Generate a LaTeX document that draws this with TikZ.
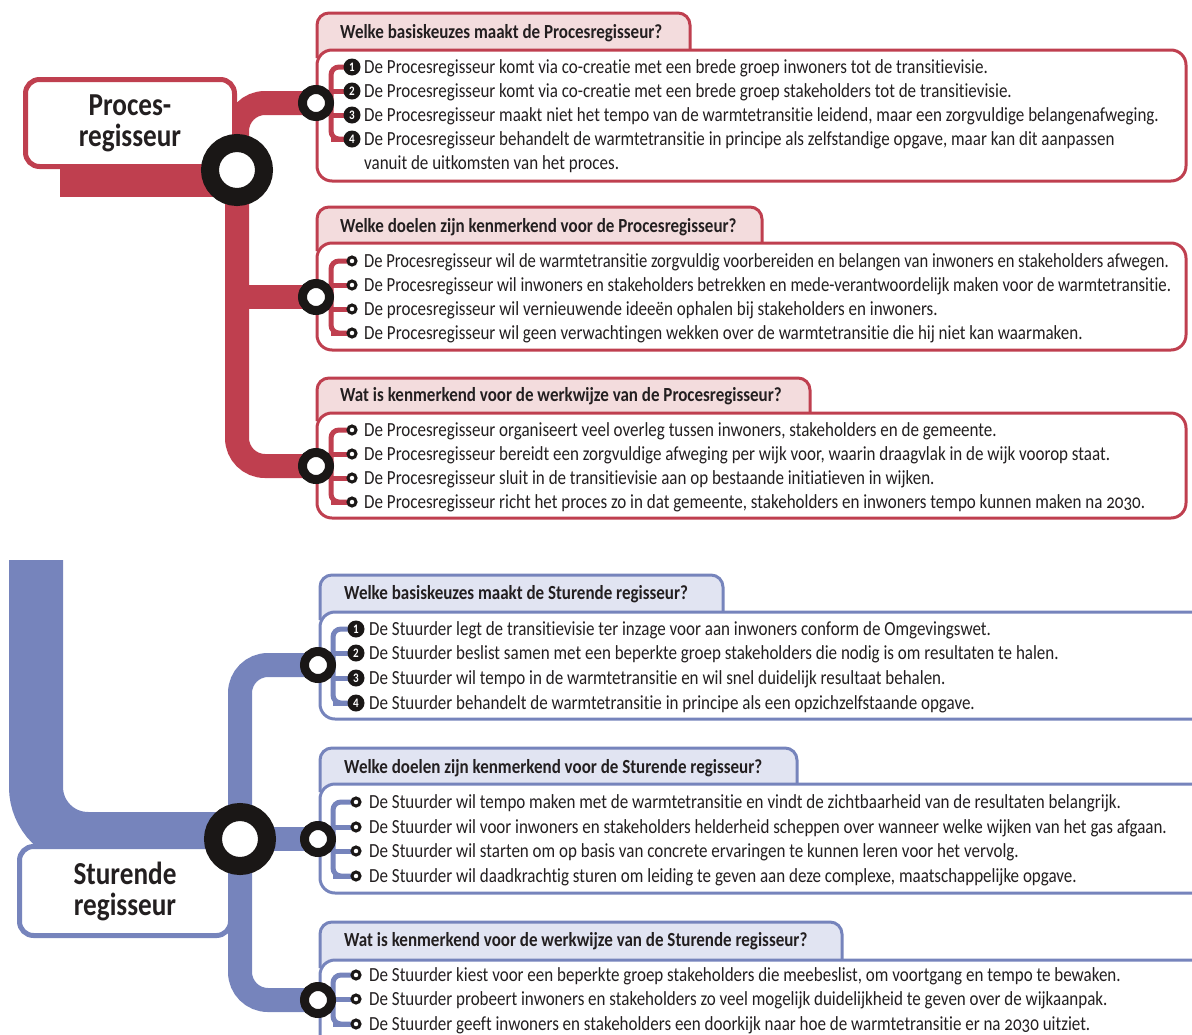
\documentclass[tikz,border=0pt]{standalone}
\usepackage{fontspec}
\setmainfont[FakeStretch=0.85,Numbers=OldStyle,Ligatures=NoCommon]{Carlito}
\usetikzlibrary{calc}
\definecolor{pred}{HTML}{BF3F4F}
\definecolor{ptab}{HTML}{F3DCDD}
\definecolor{sblue}{HTML}{7684BC}
\definecolor{stab}{HTML}{E1E4F2}
\definecolor{ink}{HTML}{231F20}
\definecolor{ringc}{HTML}{1A1716}
\pgfdeclarelayer{L0}\pgfdeclarelayer{L1}\pgfdeclarelayer{L2}
\pgfsetlayers{L0,L1,L2,main}
\tikzset{
 band/.style={line width=54, line cap=butt, rounded corners=52},
 trunk/.style={line width=24, rounded corners=28},
 bigring/.style={circle, draw=ringc, line width=18, fill=white, minimum size=54, inner sep=0},
 smallring/.style={circle, draw=ringc, line width=9, fill=white, minimum size=27, inner sep=0},
 titlebox/.style={draw, line width=5, rounded corners=14, fill=white, align=center, text=ink,
   font=\fontsize{32}{31}\selectfont\bfseries, inner sep=0},
 tabshape/.style={line width=3, rounded corners=12},
 mainbox/.style={line width=3, rounded corners=15, fill=white},
 brk/.style={line width=5, rounded corners=8},
 numbul/.style={circle, fill=ringc, minimum size=17, inner sep=0, text=white,
   font=\fontsize{13}{13}\selectfont\bfseries\addfontfeatures{Numbers=Lining}},
 openbul/.style={circle, draw=ringc, line width=3, fill=white, minimum size=8, inner sep=0},
 itemtxt/.style={anchor=base west, inner sep=0, text=ink, font=\fontsize{20}{24}\selectfont},
 headtxt/.style={anchor=base west, inner sep=0, text=ink, font=\fontsize{20}{24}\selectfont\bfseries},
}
\newcommand\contentbox[8]{%
 \draw[#1, fill=#2, tabshape] (#3,#6+8) -- (#3,#5) -- (#4,#5) -- (#4,#6+8);
 \draw[#1, mainbox] (#3,#6) rectangle (#8,#7);}
\begin{document}
\begin{tikzpicture}[x=1pt,y=-1pt]
\useasboundingbox (0,0) rectangle (1192,1034);
% ---------- junction coordinates
\coordinate (Pc) at (237,170);
\coordinate (Pend) at (60,170);
\coordinate (P1c) at (316,103);
\coordinate (P2c) at (316,297);
\coordinate (P3c) at (316,466);
\coordinate (Sc) at (240,839);
\coordinate (Stop) at (36,560);
\coordinate (S1c) at (318,665);
\coordinate (S2c) at (318,839);
\coordinate (S3c) at (318,1000);
% ---------- title nodes
\node[titlebox, draw=pred, minimum width=209, minimum height=87] (PT) at (130,123) {Proces-\\regisseur};
\node[titlebox, draw=sblue, minimum width=211, minimum height=89] (ST) at (125,891) {Sturende\\regisseur};
% ---------- rings
\node[bigring] (P) at (Pc) {};
\node[smallring] (P1) at (P1c) {};
\node[smallring] (P2) at (P2c) {};
\node[smallring] (P3) at (P3c) {};
\node[bigring] (S) at (Sc) {};
\node[smallring] (S1) at (S1c) {};
\node[smallring] (S2) at (S2c) {};
\node[smallring] (S3) at (S3c) {};
% ---------- headers
\node[headtxt] (hP1) at (340,38) {Welke basiskeuzes maakt de Procesregisseur?};
\node[headtxt] (hP2) at (340,232) {Welke doelen zijn kenmerkend voor de Procesregisseur?};
\node[headtxt] (hP3) at (340,401) {Wat is kenmerkend voor de werkwijze van de Procesregisseur?};
\node[headtxt] (hS1) at (344,599) {Welke basiskeuzes maakt de Sturende regisseur?};
\node[headtxt] (hS2) at (344,773) {Welke doelen zijn kenmerkend voor de Sturende regisseur?};
\node[headtxt] (hS3) at (344,946) {Wat is kenmerkend voor de werkwijze van de Sturende regisseur?};
% ---------- box P1
\foreach \y/\t [count=\i] in {
 67/{De Procesregisseur komt via co-creatie met een brede groep inwoners tot de transitievisie.},
 91/{De Procesregisseur komt via co-creatie met een brede groep stakeholders tot de transitievisie.},
 115/{De Procesregisseur maakt niet het tempo van de warmtetransitie leidend, maar een zorgvuldige belangenafweging.},
 139/{De Procesregisseur behandelt de warmtetransitie in principe als zelfstandige opgave, maar kan dit aanpassen}}
 {\node[numbul] (pa\i) at (352,\y) {\i};
  \node[itemtxt] (tpa\i) at (364,\y+6) {\t};}
\node[itemtxt] (tpa5) at (364,169) {vanuit de uitkomsten van het proces.};
% ---------- box P2
\foreach \y/\t [count=\i] in {
 261/{\scalebox{0.975}[1]{De Procesregisseur wil de warmtetransitie zorgvuldig voorbereiden en belangen van inwoners en stakeholders afwegen.}},
 285/{\scalebox{0.985}[1]{De Procesregisseur wil inwoners en stakeholders betrekken en mede-verantwoordelijk maken voor de warmtetransitie.}},
 309/{De procesregisseur wil vernieuwende ideeën ophalen bij stakeholders en inwoners.},
 333/{De Procesregisseur wil geen verwachtingen wekken over de warmtetransitie die hij niet kan waarmaken.}}
 {\node[openbul] (pb\i) at (352,\y) {};
  \node[itemtxt] (tpb\i) at (364,\y+6) {\t};}
% ---------- box P3
\foreach \y/\t [count=\i] in {
 430/{De Procesregisseur organiseert veel overleg tussen inwoners, stakeholders en de gemeente.},
 454/{De Procesregisseur bereidt een zorgvuldige afweging per wijk voor, waarin draagvlak in de wijk voorop staat.},
 478/{De Procesregisseur sluit in de transitievisie aan op bestaande initiatieven in wijken.},
 502/{De Procesregisseur richt het proces zo in dat gemeente, stakeholders en inwoners tempo kunnen maken na 2030.}}
 {\node[openbul] (pc\i) at (352,\y) {};
  \node[itemtxt] (tpc\i) at (364,\y+6) {\t};}
% ---------- box S1
\foreach \y/\t [count=\i] in {
 629/{De Stuurder legt de transitievisie ter inzage voor aan inwoners conform de Omgevingswet.},
 653/{De Stuurder beslist samen met een beperkte groep stakeholders die nodig is om resultaten te halen.},
 678/{De Stuurder wil tempo in de warmtetransitie en wil snel duidelijk resultaat behalen.},
 703/{De Stuurder behandelt de warmtetransitie in principe als een opzichzelfstaande opgave.}}
 {\node[numbul] (sa\i) at (356,\y) {\i};
  \node[itemtxt] (tsa\i) at (369,\y+6) {\t};}
% ---------- box S2
\foreach \y/\t [count=\i] in {
 802/{De Stuurder wil tempo maken met de warmtetransitie en vindt de zichtbaarheid van de resultaten belangrijk.},
 827/{De Stuurder wil voor inwoners en stakeholders helderheid scheppen over wanneer welke wijken van het gas afgaan.},
 851/{De Stuurder wil starten om op basis van concrete ervaringen te kunnen leren voor het vervolg.},
 876/{De Stuurder wil daadkrachtig sturen om leiding te geven aan deze complexe, maatschappelijke opgave.}}
 {\node[openbul] (sb\i) at (356,\y) {};
  \node[itemtxt] (tsb\i) at (369,\y+6) {\t};}
% ---------- box S3
\foreach \y/\t [count=\i] in {
 975/{De Stuurder kiest voor een beperkte groep stakeholders die meebeslist, om voortgang en tempo te bewaken.},
 999/{De Stuurder probeert inwoners en stakeholders zo veel mogelijk duidelijkheid te geven over de wijkaanpak.},
 1024/{De Stuurder geeft inwoners en stakeholders een doorkijk naar hoe de warmtetransitie er na 2030 uitziet.}}
 {\node[openbul] (sc\i) at (356,\y) {};
  \node[itemtxt] (tsc\i) at (369,\y+6) {\t};}
% ---------- layer 0: bands and trunks
\begin{pgfonlayer}{L0}
 \draw[pred, band] (P.center) -- (Pend);
 \draw[pred, trunk] (P.center) |- (P1.center);
 \draw[pred, trunk] (P.center) |- (P3.center);
 \draw[pred, line width=24] (P.center |- P2.center) -- (P2.center);
 \draw[sblue, band] (Stop) |- (S.center);
 \draw[sblue, trunk] (S.center) |- (S1.center);
 \draw[sblue, trunk] (S.center) |- (S3.center);
 \draw[sblue, line width=24] (S.center) -- (S2.center);
\end{pgfonlayer}
% ---------- layer 1: content boxes
\begin{pgfonlayer}{L1}
 \contentbox{pred}{ptab}{317}{690}{13}{50}{181}{1186}
 \contentbox{pred}{ptab}{317}{762}{207}{243}{350}{1186}
 \contentbox{pred}{ptab}{317}{810}{378}{413}{518}{1186}
 \contentbox{sblue}{stab}{320}{723}{575}{612}{719}{1215}
 \contentbox{sblue}{stab}{320}{797}{748}{784}{893}{1215}
 \contentbox{sblue}{stab}{320}{842}{922}{960}{1060}{1215}
\end{pgfonlayer}
% ---------- layer 2: brackets
\begin{pgfonlayer}{L2}
 \foreach \b/\n/\c/\r/\d in {pa/4/pred/P1/21, pb/4/pred/P2/21, pc/4/pred/P3/21,
                             sa/4/sblue/S1/23, sb/4/sblue/S2/23, sc/3/sblue/S3/23} {
  \draw[\c, brk] (\b1.center) -- ++(-\d,0) |- (\b\n.center);
  \foreach \k in {2,...,\n} { \draw[\c, line width=5] (\b\k.center) -- ++(-\d,0); }
  \draw[\c, line width=5] (\r.center) -- ++(15,0);
 }
\end{pgfonlayer}
\end{tikzpicture}
\end{document}
